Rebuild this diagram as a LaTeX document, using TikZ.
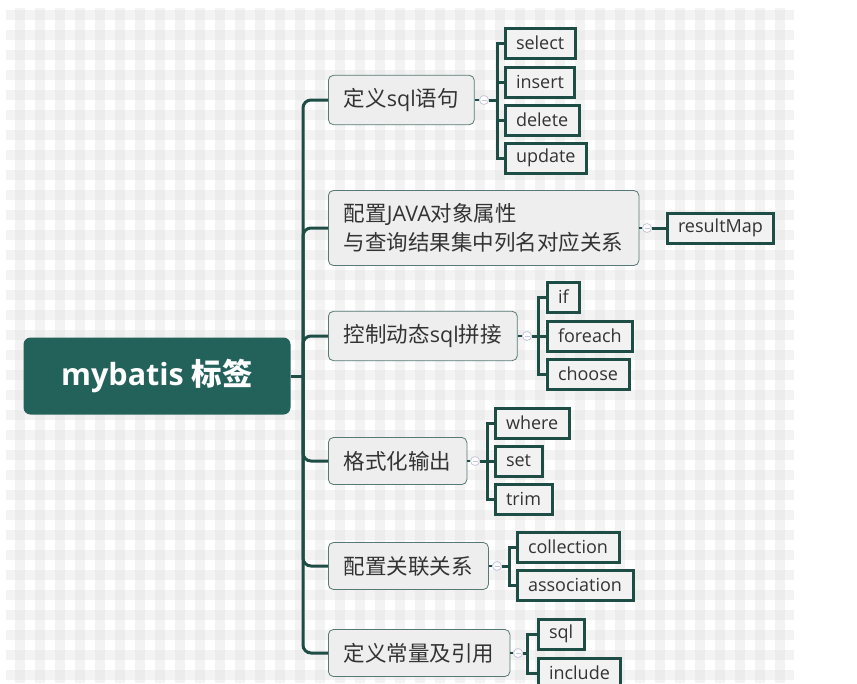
\documentclass[tikz,border=0pt]{standalone}
\usepackage{fontspec}
\setmainfont{Open Sans}
\newfontfamily\cjkfont{Noto Sans CJK SC}
\newcommand\zh[1]{{\cjkfont #1}}

\definecolor{rootgreen}{HTML}{23625A}
\definecolor{linegreen}{HTML}{1D4D45}
\definecolor{boxgray}{HTML}{EEEEEE}
\definecolor{leafgray}{HTML}{F1F2F1}
\definecolor{textgray}{HTML}{333333}
\definecolor{knobline}{HTML}{C6C6DE}
\definecolor{plaid}{HTML}{E2E2E2}

\tikzset{
  root/.style={fill=rootgreen, rounded corners=7pt, text=white,
    font=\fontsize{30.5}{34}\selectfont\bfseries, minimum width=267pt, minimum height=77pt},
  topic/.style={draw=linegreen!75, line width=0.8pt, fill=boxgray, rounded corners=5pt,
    text=textgray, font=\fontsize{21.5}{29}\selectfont, align=left, anchor=west,
    inner xsep=15.5pt, inner ysep=13pt, minimum height=47pt},
  leaf/.style={draw=linegreen, line width=3pt, fill=leafgray, text=textgray,
    font=\fontsize{18}{20}\selectfont, anchor=west, inner xsep=11pt, minimum height=30pt},
  knob/.style={circle, draw=knobline, fill=white, line width=0.8pt, minimum size=9pt, inner sep=0pt,
    path picture={\draw[knobline, line width=0.8pt]
      ([xshift=-2.5pt]path picture bounding box.center) -- ([xshift=2.5pt]path picture bounding box.center);}},
  trunk/.style={draw=linegreen, line width=3pt, rounded corners=8pt},
  twig/.style={draw=linegreen, line width=3pt},
  stub/.style={draw=linegreen, line width=2pt},
}

\begin{document}
\begin{tikzpicture}[x=1pt, y=-1pt]
  \useasboundingbox (0,0) rectangle (857,683);
  % plaid paper
  \fill[white] (0,0) rectangle (857,683);
  \foreach \x in {15,35,...,775}
    \fill[plaid, opacity=0.4] (\x,8) rectangle ++(10,675);
  \foreach \y in {10,30,...,670}
    \fill[plaid, opacity=0.4] (6,\y) rectangle (794,\y+10);

  % root and main topics
  \node[root] (root) at (157,376) {mybatis \zh{标签}};
  \coordinate (hub) at (303,376);

  \node[topic] (sqldef) at (328,100) {\zh{定义}sql\zh{语句}};
  \node[topic] (mapping) at (328,228) {\zh{配置}JAVA\zh{对象属性}\\\zh{与查询结果集中列名对应关系}};
  \node[topic] (dynamic) at (328,336) {\zh{控制动态}sql\zh{拼接}};
  \node[topic] (format) at (328,461) {\zh{格式化输出}};
  \node[topic] (relation) at (328,566) {\zh{配置关联关系}};
  \node[topic] (constant) at (328,653) {\zh{定义常量及引用}};

  \draw[trunk] (root.east) -- (hub);
  \foreach \t in {sqldef,mapping,dynamic,format,relation,constant}
    \draw[trunk] (hub) |- (\t.west);

  % collapse knobs
  \node[knob] (k1) at (484,100) {};
  \node[knob] (k2) at (647,228) {};
  \node[knob] (k3) at (527,336) {};
  \node[knob] (k4) at (475,461) {};
  \node[knob] (k5) at (497,566) {};
  \node[knob] (k6) at (518,653) {};
  \coordinate (b1) at (497,100);
  \coordinate (b3) at (538,336);
  \coordinate (b4) at (487,461);
  \coordinate (b5) at (509,566);
  \coordinate (b6) at (527,653);

  % leaves
  \node[leaf] (select) at (503.5,43) {select};
  \node[leaf] (insert) at (503.5,82) {insert};
  \node[leaf] (delete) at (503.5,120) {delete};
  \node[leaf] (update) at (503.5,158) {update};
  \node[leaf] (resultmap) at (665.5,228) {resultMap};
  \node[leaf] (if) at (545.5,297) {if};
  \node[leaf] (foreach) at (545.5,336) {foreach};
  \node[leaf] (choose) at (545.5,374) {choose};
  \node[leaf] (where) at (493.5,423) {where};
  \node[leaf] (set) at (493.5,461) {set};
  \node[leaf] (trim) at (493.5,499) {trim};
  \node[leaf] (collection) at (515.5,547) {collection};
  \node[leaf] (association) at (515.5,585) {association};
  \node[leaf] (sql) at (536.5,634) {sql};
  \node[leaf] (include) at (536.5,673) {include};

  % connectors to leaves
  \draw[stub] (sqldef.east) -- (k1.west);
  \draw[stub] (mapping.east) -- (k2.west);
  \draw[stub] (dynamic.east) -- (k3.west);
  \draw[stub] (format.east) -- (k4.west);
  \draw[stub] (relation.east) -- (k5.west);
  \draw[stub] (constant.east) -- (k6.west);

  \draw[twig] (k1.east) -- (b1);
  \foreach \l in {select,insert,delete,update}
    \draw[twig] (b1) |- (\l.west);
  \draw[twig] (k2.east) -- (resultmap.west);
  \draw[twig] (k3.east) -- (b3);
  \foreach \l in {if,foreach,choose}
    \draw[twig] (b3) |- (\l.west);
  \draw[twig] (k4.east) -- (b4);
  \foreach \l in {where,set,trim}
    \draw[twig] (b4) |- (\l.west);
  \draw[twig] (k5.east) -- (b5);
  \foreach \l in {collection,association}
    \draw[twig] (b5) |- (\l.west);
  \draw[twig] (k6.east) -- (b6);
  \foreach \l in {sql,include}
    \draw[twig] (b6) |- (\l.west);
\end{tikzpicture}
\end{document}
